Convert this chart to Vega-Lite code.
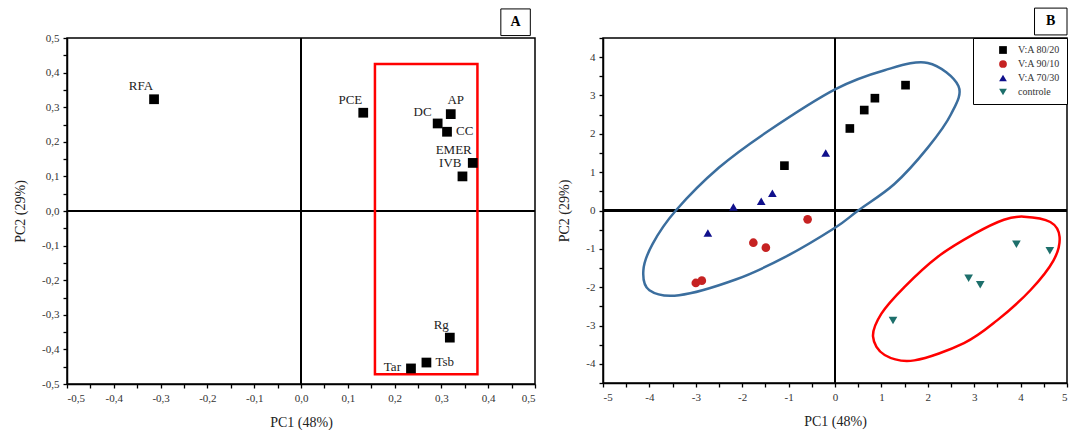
{
  "$schema": "https://vega.github.io/schema/vega-lite/v6.json",
  "background": "white",
  "padding": {"left": 12, "top": 6, "right": 0, "bottom": 0},
  "spacing": 20,
  "resolve": {"legend": {"color": "independent", "shape": "independent"}, "scale": {"color": "independent", "shape": "independent"}},
  "datasets": {
    "loadings": [
      {"label": "RFA", "pc1": -0.314, "pc2": 0.323},
      {"label": "PCE", "pc1": 0.133, "pc2": 0.284},
      {"label": "DC", "pc1": 0.292, "pc2": 0.253},
      {"label": "AP", "pc1": 0.32, "pc2": 0.28},
      {"label": "CC", "pc1": 0.312, "pc2": 0.229},
      {"label": "EMER", "pc1": 0.367, "pc2": 0.139},
      {"label": "IVB", "pc1": 0.345, "pc2": 0.1},
      {"label": "Rg", "pc1": 0.318, "pc2": -0.366},
      {"label": "Tsb", "pc1": 0.268, "pc2": -0.438},
      {"label": "Tar", "pc1": 0.235, "pc2": -0.455}
    ],
    "highlight": [
      {"x1": 0.158, "x2": 0.377, "y1": -0.472, "y2": 0.425}
    ],
    "scores": [
      {"group": "V:A 80/20", "pc1": 0.32, "pc2": 2.14},
      {"group": "V:A 80/20", "pc1": 0.63, "pc2": 2.62},
      {"group": "V:A 80/20", "pc1": 0.86, "pc2": 2.93},
      {"group": "V:A 80/20", "pc1": 1.52, "pc2": 3.27},
      {"group": "V:A 80/20", "pc1": -1.09, "pc2": 1.17},
      {"group": "V:A 90/10", "pc1": -0.59, "pc2": -0.23},
      {"group": "V:A 90/10", "pc1": -1.76, "pc2": -0.84},
      {"group": "V:A 90/10", "pc1": -1.49, "pc2": -0.97},
      {"group": "V:A 90/10", "pc1": -3.0, "pc2": -1.89},
      {"group": "V:A 90/10", "pc1": -2.87, "pc2": -1.83},
      {"group": "V:A 70/30", "pc1": -0.2, "pc2": 1.5},
      {"group": "V:A 70/30", "pc1": -1.35, "pc2": 0.45},
      {"group": "V:A 70/30", "pc1": -1.59, "pc2": 0.24},
      {"group": "V:A 70/30", "pc1": -2.19, "pc2": 0.09},
      {"group": "V:A 70/30", "pc1": -2.74, "pc2": -0.59},
      {"group": "controle", "pc1": 1.25, "pc2": -2.87},
      {"group": "controle", "pc1": 2.88, "pc2": -1.77},
      {"group": "controle", "pc1": 3.13, "pc2": -1.94},
      {"group": "controle", "pc1": 3.91, "pc2": -0.88},
      {"group": "controle", "pc1": 4.63, "pc2": -1.05}
    ],
    "ellipses": [
      {"ring": "blue", "i": 1, "pc1": 2.0, "pc2": 3.85},
      {"ring": "blue", "i": 2, "pc1": 2.66, "pc2": 3.25},
      {"ring": "blue", "i": 3, "pc1": 2.5, "pc2": 2.51},
      {"ring": "blue", "i": 4, "pc1": 2.0, "pc2": 1.64},
      {"ring": "blue", "i": 5, "pc1": 1.28, "pc2": 0.69},
      {"ring": "blue", "i": 6, "pc1": 0.5, "pc2": 0.0},
      {"ring": "blue", "i": 7, "pc1": 0.0, "pc2": -0.45},
      {"ring": "blue", "i": 8, "pc1": -1.07, "pc2": -1.21},
      {"ring": "blue", "i": 9, "pc1": -2.14, "pc2": -1.8},
      {"ring": "blue", "i": 10, "pc1": -3.36, "pc2": -2.21},
      {"ring": "blue", "i": 11, "pc1": -4.0, "pc2": -2.08},
      {"ring": "blue", "i": 12, "pc1": -4.13, "pc2": -1.56},
      {"ring": "blue", "i": 13, "pc1": -3.93, "pc2": -0.87},
      {"ring": "blue", "i": 14, "pc1": -3.43, "pc2": 0.0},
      {"ring": "blue", "i": 15, "pc1": -2.5, "pc2": 1.12},
      {"ring": "blue", "i": 16, "pc1": -1.43, "pc2": 2.08},
      {"ring": "blue", "i": 17, "pc1": 0.0, "pc2": 3.16},
      {"ring": "blue", "i": 18, "pc1": 1.07, "pc2": 3.66},
      {"ring": "red", "i": 1, "pc1": 4.07, "pc2": -0.16},
      {"ring": "red", "i": 2, "pc1": 4.64, "pc2": -0.3},
      {"ring": "red", "i": 3, "pc1": 4.84, "pc2": -0.69},
      {"ring": "red", "i": 4, "pc1": 4.71, "pc2": -1.3},
      {"ring": "red", "i": 5, "pc1": 4.21, "pc2": -2.08},
      {"ring": "red", "i": 6, "pc1": 3.5, "pc2": -2.86},
      {"ring": "red", "i": 7, "pc1": 2.78, "pc2": -3.46},
      {"ring": "red", "i": 8, "pc1": 1.71, "pc2": -3.91},
      {"ring": "red", "i": 9, "pc1": 1.07, "pc2": -3.77},
      {"ring": "red", "i": 10, "pc1": 0.82, "pc2": -3.29},
      {"ring": "red", "i": 11, "pc1": 1.0, "pc2": -2.69},
      {"ring": "red", "i": 12, "pc1": 1.5, "pc2": -1.99},
      {"ring": "red", "i": 13, "pc1": 2.21, "pc2": -1.21},
      {"ring": "red", "i": 14, "pc1": 3.0, "pc2": -0.61},
      {"ring": "red", "i": 15, "pc1": 3.64, "pc2": -0.24}
    ]
  },
  "hconcat": [
    {
      "width": 468,
      "height": 346,
      "layer": [
        {
          "data": {"name": "loadings"},
          "mark": {"type": "rule", "color": "black", "strokeWidth": 2},
          "encoding": {"x": {"datum": 0, "type": "quantitative"}}
        },
        {
          "data": {"name": "loadings"},
          "mark": {"type": "rule", "color": "black", "strokeWidth": 2},
          "encoding": {"y": {"datum": 0, "type": "quantitative"}}
        },
        {
          "data": {"name": "highlight"},
          "mark": {"type": "rect", "fill": null, "fillOpacity": 0, "stroke": "#ff0000", "strokeWidth": 2.5},
          "encoding": {
            "x": {"field": "x1", "type": "quantitative"},
            "x2": {"field": "x2"},
            "y": {"field": "y1", "type": "quantitative"},
            "y2": {"field": "y2"}
          }
        },
        {
          "data": {"name": "loadings"},
          "mark": {"type": "square", "filled": true, "color": "black", "size": 95, "opacity": 1},
          "encoding": {
            "x": {
              "field": "pc1", "type": "quantitative", "title": "PC1 (48%)",
              "scale": {"domain": [-0.5, 0.5], "nice": false, "zero": false},
              "axis": {
                "values": [-0.5, -0.45, -0.4, -0.35, -0.3, -0.25, -0.2, -0.15, -0.1, -0.05, 0, 0.05, 0.1, 0.15, 0.2, 0.25, 0.3, 0.35, 0.4, 0.45, 0.5],
                "tickCount": 100,
                "labelExpr": "abs(datum.value * 10 - round(datum.value * 10)) < 0.001 ? (datum.value < -0.001 ? '-' : '') + replace(format(abs(datum.value), '.1f'), '.', ',') : ''",
                "labelOverlap": false,
                "titlePadding": 12
              }
            },
            "y": {
              "field": "pc2", "type": "quantitative", "title": "PC2 (29%)",
              "scale": {"domain": [-0.5, 0.5], "nice": false, "zero": false},
              "axis": {
                "values": [-0.5, -0.45, -0.4, -0.35, -0.3, -0.25, -0.2, -0.15, -0.1, -0.05, 0, 0.05, 0.1, 0.15, 0.2, 0.25, 0.3, 0.35, 0.4, 0.45, 0.5],
                "tickCount": 100,
                "labelExpr": "abs(datum.value * 10 - round(datum.value * 10)) < 0.001 ? (datum.value < -0.001 ? '-' : '') + replace(format(abs(datum.value), '.1f'), '.', ',') : ''",
                "labelOverlap": false,
                "titlePadding": 14
              }
            }
          }
        },
        {
          "data": {"name": "loadings"},
          "transform": [{"filter": {"field": "label", "oneOf": ["RFA", "PCE", "EMER", "IVB", "Rg"]}}],
          "mark": {"type": "text", "align": "right", "baseline": "middle", "dx": -1, "dy": -13, "font": "Liberation Serif", "fontSize": 13, "color": "#222"},
          "encoding": {
            "x": {"field": "pc1", "type": "quantitative"},
            "y": {"field": "pc2", "type": "quantitative"},
            "text": {"field": "label"}
          }
        },
        {
          "data": {"name": "loadings"},
          "transform": [{"filter": {"field": "label", "equal": "AP"}}],
          "mark": {"type": "text", "align": "center", "baseline": "middle", "dx": 5, "dy": -14, "font": "Liberation Serif", "fontSize": 13, "color": "#222"},
          "encoding": {
            "x": {"field": "pc1", "type": "quantitative"},
            "y": {"field": "pc2", "type": "quantitative"},
            "text": {"field": "label"}
          }
        },
        {
          "data": {"name": "loadings"},
          "transform": [{"filter": {"field": "label", "equal": "DC"}}],
          "mark": {"type": "text", "align": "right", "baseline": "middle", "dx": -6, "dy": -11, "font": "Liberation Serif", "fontSize": 13, "color": "#222"},
          "encoding": {
            "x": {"field": "pc1", "type": "quantitative"},
            "y": {"field": "pc2", "type": "quantitative"},
            "text": {"field": "label"}
          }
        },
        {
          "data": {"name": "loadings"},
          "transform": [{"filter": {"field": "label", "oneOf": ["CC", "Tsb"]}}],
          "mark": {"type": "text", "align": "left", "baseline": "middle", "dx": 9, "dy": -1, "font": "Liberation Serif", "fontSize": 13, "color": "#222"},
          "encoding": {
            "x": {"field": "pc1", "type": "quantitative"},
            "y": {"field": "pc2", "type": "quantitative"},
            "text": {"field": "label"}
          }
        },
        {
          "data": {"name": "loadings"},
          "transform": [{"filter": {"field": "label", "equal": "Tar"}}],
          "mark": {"type": "text", "align": "right", "baseline": "middle", "dx": -10, "dy": -1, "font": "Liberation Serif", "fontSize": 13, "color": "#222"},
          "encoding": {
            "x": {"field": "pc1", "type": "quantitative"},
            "y": {"field": "pc2", "type": "quantitative"},
            "text": {"field": "label"}
          }
        },
        {
          "data": {"values": [{"tag": "A"}]},
          "mark": {"type": "rect", "fill": "white", "stroke": "black", "strokeWidth": 1},
          "encoding": {
            "x": {"datum": 0.427, "type": "quantitative"},
            "x2": {"datum": 0.49},
            "y": {"datum": 0.584, "type": "quantitative"},
            "y2": {"datum": 0.507}
          }
        },
        {
          "data": {"values": [{"tag": "A"}]},
          "mark": {"type": "text", "font": "Liberation Serif", "fontSize": 14, "fontWeight": "bold", "color": "black", "align": "center", "baseline": "middle"},
          "encoding": {
            "x": {"datum": 0.4585, "type": "quantitative"},
            "y": {"datum": 0.546, "type": "quantitative"},
            "text": {"field": "tag"}
          }
        }
      ]
    },
    {
      "width": 464,
      "height": 345,
      "layer": [
        {
          "data": {"name": "scores"},
          "mark": {"type": "rule", "color": "black", "strokeWidth": 1.5},
          "encoding": {"x": {"datum": 0, "type": "quantitative"}}
        },
        {
          "data": {"name": "scores"},
          "mark": {"type": "rule", "color": "black", "strokeWidth": 1.5},
          "encoding": {"y": {"datum": 0, "type": "quantitative"}}
        },
        {
          "data": {"name": "scores"},
          "mark": {"type": "point", "filled": true, "opacity": 1, "size": 75},
          "encoding": {
            "x": {
              "field": "pc1", "type": "quantitative", "title": "PC1 (48%)",
              "scale": {"domain": [-5, 5], "nice": false, "zero": false},
              "axis": {
                "values": [-5, -4.5, -4, -3.5, -3, -2.5, -2, -1.5, -1, -0.5, 0, 0.5, 1, 1.5, 2, 2.5, 3, 3.5, 4, 4.5, 5],
                "tickCount": 100,
                "labelExpr": "datum.value % 1 == 0 ? (datum.value < 0 ? '-' : '') + format(abs(datum.value), 'd') : ''",
                "labelOverlap": false,
                "titlePadding": 12
              }
            },
            "y": {
              "field": "pc2", "type": "quantitative", "title": "PC2 (29%)",
              "scale": {"domain": [-4.5, 4.5], "nice": false, "zero": false},
              "axis": {
                "values": [-4.5, -4, -3.5, -3, -2.5, -2, -1.5, -1, -0.5, 0, 0.5, 1, 1.5, 2, 2.5, 3, 3.5, 4, 4.5],
                "tickCount": 100,
                "labelExpr": "datum.value % 1 == 0 ? (datum.value < 0 ? '-' : '') + format(abs(datum.value), 'd') : ''",
                "labelOverlap": false,
                "titlePadding": 14
              }
            },
            "shape": {
              "field": "group", "type": "nominal",
              "scale": {"domain": ["V:A 80/20", "V:A 90/10", "V:A 70/30", "controle"], "range": ["square", "circle", "triangle-up", "triangle-down"]},
              "legend": {"title": null, "orient": "top-right", "offset": 0}
            },
            "color": {
              "field": "group", "type": "nominal",
              "scale": {"domain": ["V:A 80/20", "V:A 90/10", "V:A 70/30", "controle"], "range": ["#000000", "#c62222", "#10108c", "#1d6f6b"]},
              "legend": {"title": null, "orient": "top-right", "offset": 0}
            }
          }
        },
        {
          "data": {"name": "ellipses"},
          "transform": [{"filter": {"field": "ring", "equal": "blue"}}],
          "mark": {"type": "line", "interpolate": "cardinal-closed", "color": "#3b6e9e", "strokeWidth": 2.5},
          "encoding": {
            "x": {"field": "pc1", "type": "quantitative"},
            "y": {"field": "pc2", "type": "quantitative"},
            "order": {"field": "i", "type": "quantitative"}
          }
        },
        {
          "data": {"name": "ellipses"},
          "transform": [{"filter": {"field": "ring", "equal": "red"}}],
          "mark": {"type": "line", "interpolate": "cardinal-closed", "color": "#ff0000", "strokeWidth": 2.5},
          "encoding": {
            "x": {"field": "pc1", "type": "quantitative"},
            "y": {"field": "pc2", "type": "quantitative"},
            "order": {"field": "i", "type": "quantitative"}
          }
        },
        {
          "data": {"values": [{"tag": "B"}]},
          "mark": {"type": "rect", "fill": "white", "stroke": "black", "strokeWidth": 1},
          "encoding": {
            "x": {"datum": 4.3, "type": "quantitative"},
            "x2": {"datum": 5.0},
            "y": {"datum": 5.28, "type": "quantitative"},
            "y2": {"datum": 4.58}
          }
        },
        {
          "data": {"values": [{"tag": "B"}]},
          "mark": {"type": "text", "font": "Liberation Serif", "fontSize": 14, "fontWeight": "bold", "color": "black", "align": "center", "baseline": "middle"},
          "encoding": {
            "x": {"datum": 4.65, "type": "quantitative"},
            "y": {"datum": 4.94, "type": "quantitative"},
            "text": {"field": "tag"}
          }
        }
      ]
    }
  ],
  "config": {
    "view": {"stroke": "black", "strokeWidth": 1.5},
    "axis": {
      "grid": false,
      "domainColor": "black",
      "domainWidth": 1.5,
      "tickColor": "black",
      "tickWidth": 1.3,
      "tickSize": 4,
      "labelOverlap": false,
      "labelFont": "Liberation Serif",
      "labelFontSize": 11,
      "labelColor": "#333",
      "labelPadding": 4,
      "titleFont": "Liberation Serif",
      "titleFontSize": 14,
      "titleFontWeight": "normal",
      "titleColor": "#222"
    },
    "legend": {
      "labelFont": "Liberation Serif",
      "labelFontSize": 10,
      "labelColor": "#333",
      "symbolSize": 60,
      "symbolOffset": 18,
      "labelOffset": 10,
      "rowPadding": 4,
      "padding": 7,
      "strokeColor": "black",
      "fillColor": "white"
    }
  }
}
